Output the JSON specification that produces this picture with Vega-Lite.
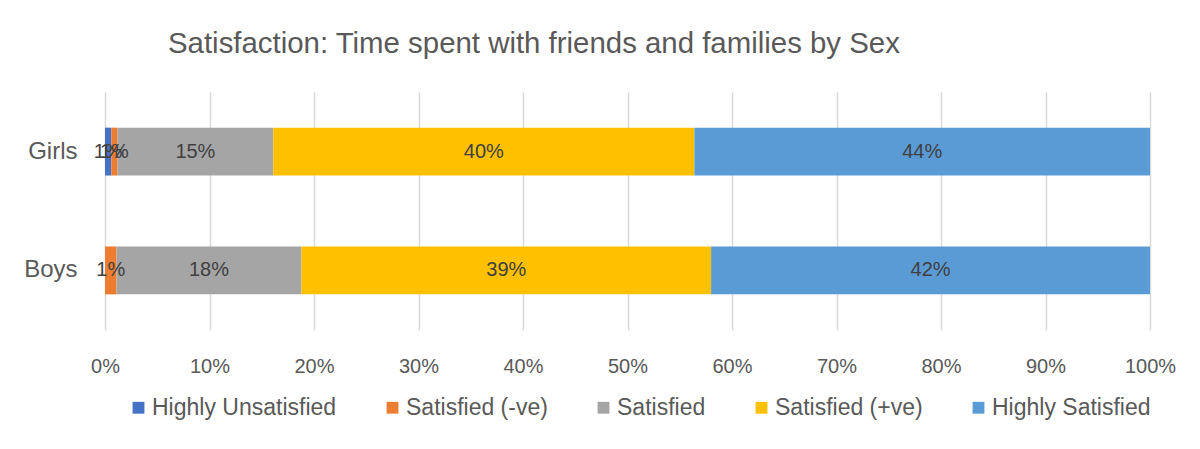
{
  "$schema": "https://vega.github.io/schema/vega-lite/v6.json",
  "width": 1045,
  "height": 238,
  "autosize": {"type": "none"},
  "padding": {"left": 105, "top": 92, "right": 50, "bottom": 119},
  "background": "white",
  "config": {
    "view": {"stroke": null},
    "font": "Liberation Sans"
  },
  "title": {
    "text": "Satisfaction: Time spent with friends and families by Sex",
    "anchor": "start",
    "frame": "group",
    "dx": 63,
    "offset": 33,
    "fontSize": 29.4,
    "fontWeight": "normal",
    "color": "#595959",
    "font": "Liberation Sans"
  },
  "data": {
    "values": [
      {"sex": "Girls", "level": "Highly Unsatisfied", "k": 1, "share": 0.006},
      {"sex": "Girls", "level": "Satisfied (-ve)", "k": 2, "share": 0.006},
      {"sex": "Girls", "level": "Satisfied", "k": 3, "share": 0.149},
      {"sex": "Girls", "level": "Satisfied (+ve)", "k": 4, "share": 0.403},
      {"sex": "Girls", "level": "Highly Satisfied", "k": 5, "share": 0.436},
      {"sex": "Boys", "level": "Satisfied (-ve)", "k": 2, "share": 0.011},
      {"sex": "Boys", "level": "Satisfied", "k": 3, "share": 0.177},
      {"sex": "Boys", "level": "Satisfied (+ve)", "k": 4, "share": 0.392},
      {"sex": "Boys", "level": "Highly Satisfied", "k": 5, "share": 0.420}
    ]
  },
  "encoding": {
    "y": {
      "field": "sex",
      "type": "nominal",
      "sort": ["Girls", "Boys"],
      "scale": {"paddingInner": 0.597, "paddingOuter": 0.3},
      "axis": {
        "title": null,
        "domain": false,
        "ticks": false,
        "labelPadding": 28,
        "labelFontSize": 24,
        "labelColor": "#595959",
        "labelFont": "Liberation Sans"
      }
    },
    "x": {
      "field": "share",
      "type": "quantitative",
      "stack": "zero",
      "scale": {"domain": [0, 1], "nice": false},
      "axis": {
        "title": null,
        "values": [0, 0.1, 0.2, 0.3, 0.4, 0.5, 0.6, 0.7, 0.8, 0.9, 1],
        "format": ".0%",
        "domain": false,
        "ticks": false,
        "grid": true,
        "gridColor": "#D9D9D9",
        "gridWidth": 1.5,
        "labelFlush": false,
        "labelPadding": 26,
        "labelFontSize": 20,
        "labelColor": "#595959",
        "labelFont": "Liberation Sans"
      }
    },
    "order": {"field": "k", "type": "quantitative"}
  },
  "layer": [
    {
      "mark": {"type": "bar"},
      "encoding": {
        "color": {
          "field": "level",
          "type": "nominal",
          "scale": {
            "domain": ["Highly Unsatisfied", "Satisfied (-ve)", "Satisfied", "Satisfied (+ve)", "Highly Satisfied"],
            "range": ["#4472C4", "#ED7D31", "#A5A5A5", "#FFC000", "#5B9BD5"]
          },
          "legend": {
            "title": null,
            "orient": "none",
            "direction": "horizontal",
            "legendX": 22,
            "legendY": 304,
            "symbolType": "square",
            "symbolSize": 140,
            "symbolStrokeWidth": 0,
            "symbolOpacity": 1,
            "labelFontSize": 23,
            "labelColor": "#595959",
            "labelFont": "Liberation Sans",
            "labelOffset": 2,
            "columnPadding": 44,
            "labelLimit": 400
          }
        }
      }
    },
    {
      "mark": {"type": "text", "fontSize": 20, "color": "#404040", "font": "Liberation Sans"},
      "encoding": {
        "x": {"field": "share", "type": "quantitative", "stack": "zero", "bandPosition": 0.5},
        "text": {"field": "share", "type": "quantitative", "format": ".0%"}
      }
    }
  ]
}
